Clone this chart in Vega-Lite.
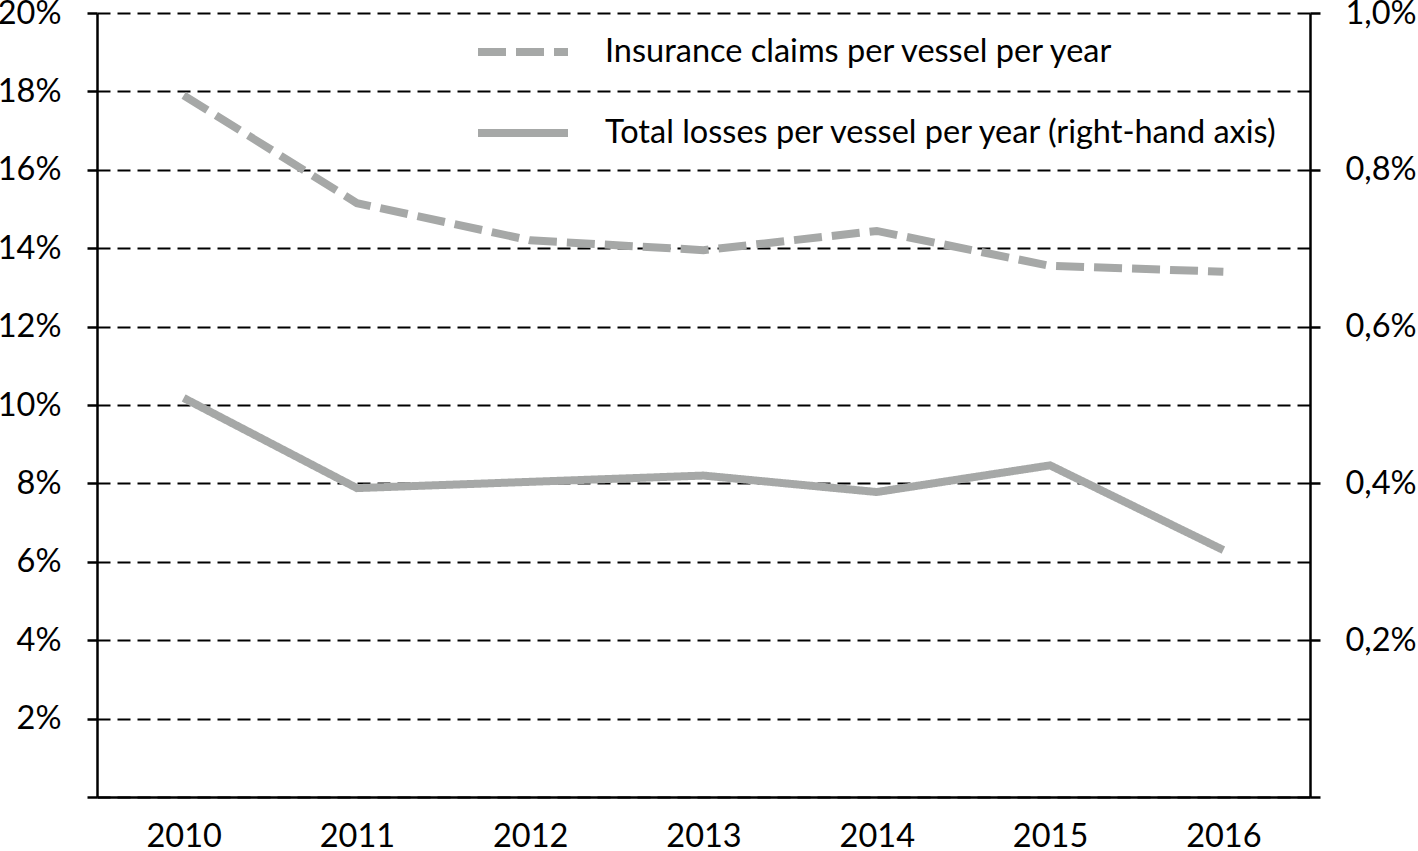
{
  "$schema": "https://vega.github.io/schema/vega-lite/v6.json",
  "width": 1213,
  "height": 784,
  "autosize": {"type": "none"},
  "padding": {"left": 97, "top": 13, "right": 108, "bottom": 54},
  "background": "white",
  "config": {
    "font": "Lato",
    "view": {"stroke": null},
    "axis": {
      "labelFont": "Lato",
      "labelFontSize": 32.5,
      "labelColor": "black",
      "domainColor": "black",
      "domainWidth": 2.5,
      "tickColor": "black",
      "tickWidth": 2.5,
      "gridColor": "black",
      "gridWidth": 2,
      "gridDash": [13, 7],
      "gridOpacity": 1
    }
  },
  "data": {
    "values": [
      {"year": "2010", "series": "Insurance claims per vessel per year", "value": 0.179},
      {"year": "2011", "series": "Insurance claims per vessel per year", "value": 0.1515},
      {"year": "2012", "series": "Insurance claims per vessel per year", "value": 0.142},
      {"year": "2013", "series": "Insurance claims per vessel per year", "value": 0.1395},
      {"year": "2014", "series": "Insurance claims per vessel per year", "value": 0.1444},
      {"year": "2015", "series": "Insurance claims per vessel per year", "value": 0.1355},
      {"year": "2016", "series": "Insurance claims per vessel per year", "value": 0.134},
      {"year": "2010", "series": "Total losses per vessel per year (right-hand axis)", "value": 0.00509},
      {"year": "2011", "series": "Total losses per vessel per year (right-hand axis)", "value": 0.00394},
      {"year": "2012", "series": "Total losses per vessel per year (right-hand axis)", "value": 0.00402},
      {"year": "2013", "series": "Total losses per vessel per year (right-hand axis)", "value": 0.0041},
      {"year": "2014", "series": "Total losses per vessel per year (right-hand axis)", "value": 0.00389},
      {"year": "2015", "series": "Total losses per vessel per year (right-hand axis)", "value": 0.00423},
      {"year": "2016", "series": "Total losses per vessel per year (right-hand axis)", "value": 0.00315}
    ]
  },
  "encoding": {
    "x": {
      "field": "year",
      "type": "ordinal",
      "scale": {"type": "point", "padding": 0.5},
      "axis": {"title": null, "labelAngle": 0, "ticks": false, "labelPadding": 23, "grid": false}
    }
  },
  "layer": [
    {
      "transform": [{"filter": "datum.series == 'Insurance claims per vessel per year'"}],
      "mark": {"type": "line", "strokeWidth": 8, "color": "#a6a8a7"},
      "encoding": {
        "y": {
          "field": "value",
          "type": "quantitative",
          "scale": {"domain": [0, 0.2]},
          "axis": {
            "title": null,
            "orient": "left",
            "values": [0, 0.02, 0.04, 0.06, 0.08, 0.1, 0.12, 0.14, 0.16, 0.18, 0.2],
            "labelExpr": "datum.value == 0 ? '' : format(datum.value, '.0%')",
            "tickSize": 10,
            "grid": true,
            "labelPadding": 26
          }
        },
        "strokeDash": {
          "field": "series",
          "type": "nominal",
          "scale": {
            "domain": ["Insurance claims per vessel per year", "Total losses per vessel per year (right-hand axis)"],
            "range": [[28, 10], [1, 0]]
          },
          "legend": {
            "title": null,
            "orient": "none",
            "legendX": 377,
            "legendY": -10,
            "symbolType": "stroke",
            "symbolStrokeWidth": 8,
            "symbolStrokeColor": "#a6a8a7",
            "symbolSize": 8100,
            "labelFont": "Lato",
            "labelFontSize": 32.5,
            "labelColor": "black",
            "labelOffset": 33,
            "labelLimit": 900,
            "rowPadding": 15
          }
        }
      }
    },
    {
      "transform": [{"filter": "datum.series == 'Total losses per vessel per year (right-hand axis)'"}],
      "mark": {"type": "line", "strokeWidth": 8, "color": "#a6a8a7"},
      "encoding": {
        "y": {
          "field": "value",
          "type": "quantitative",
          "scale": {"domain": [0, 0.01]},
          "axis": {
            "title": null,
            "orient": "right",
            "values": [0, 0.002, 0.004, 0.006, 0.008, 0.01],
            "labelExpr": "datum.value == 0 ? '' : replace(format(datum.value, '.1%'), '.', ',')",
            "tickSize": 10,
            "grid": false,
            "labelPadding": 25
          }
        },
        "strokeDash": {"field": "series", "type": "nominal"}
      }
    }
  ],
  "resolve": {"scale": {"y": "independent"}}
}
